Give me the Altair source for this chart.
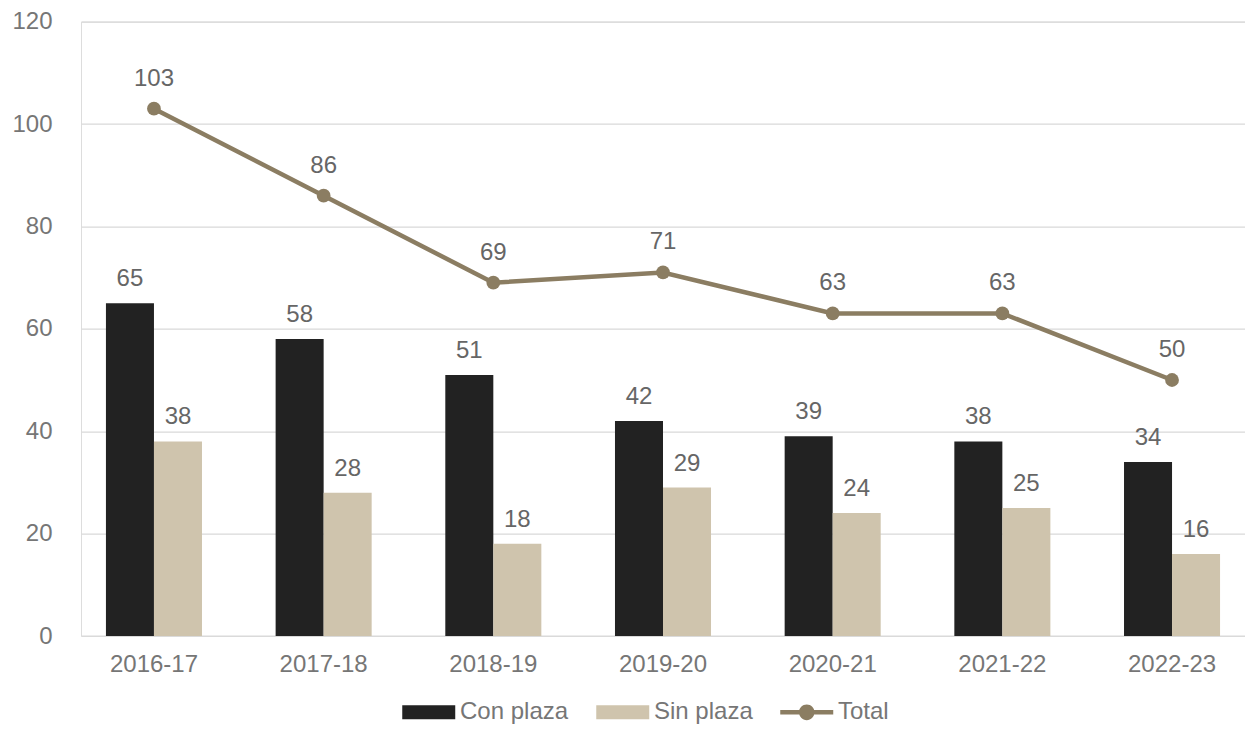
import altair as alt
import pandas as pd

categorias = ["2016-17", "2017-18", "2018-19", "2019-20", "2020-21", "2021-22", "2022-23"]
con_plaza = [65, 58, 51, 42, 39, 38, 34]
sin_plaza = [38, 28, 18, 29, 24, 25, 16]
total = [103, 86, 69, 71, 63, 63, 50]

series = ["Con plaza", "Sin plaza", "Total"]
colores = ["#222222", "#cfc4ad", "#8b7d62"]

bars_df = pd.DataFrame(
    [{"curso": c, "serie": "Con plaza", "valor": v} for c, v in zip(categorias, con_plaza)]
    + [{"curso": c, "serie": "Sin plaza", "valor": v} for c, v in zip(categorias, sin_plaza)]
)
line_df = pd.DataFrame({"curso": categorias, "serie": "Total", "valor": total})
legend_df = pd.DataFrame({"serie": series})

FONT = "Liberation Sans"
FS = 24
AXIS_GREY = "#767676"
LABEL_GREY = "#666666"

x_scale = alt.Scale(domain=categorias, paddingInner=0.434, paddingOuter=0.147)
y_scale = alt.Scale(domain=[0, 120])
color_scale = alt.Scale(domain=series, range=colores)

rect_path = "M-1,-0.53H3V0.53H-1Z"
line_path = "M-1,-0.17H3V0.17H-1Z M0.41,0 A0.59,0.59 0 1,1 1.59,0 A0.59,0.59 0 1,1 0.41,0Z"
shape_scale = alt.Scale(domain=series, range=[rect_path, rect_path, line_path])

legend = alt.Legend(
    title=None,
    orient="none",
    direction="horizontal",
    legendX=321,
    legendY=677,
    symbolSize=702,
    symbolOpacity=1,
    symbolStrokeWidth=0,
    labelOffset=31,
    columnPadding=27,
    labelFont=FONT,
    labelFontSize=FS,
    labelColor=AXIS_GREY,
)

x_enc = alt.X(
    "curso:N",
    scale=x_scale,
    sort=categorias,
    title=None,
    axis=alt.Axis(
        labelAngle=0,
        labelFont=FONT,
        labelFontSize=FS,
        labelColor=AXIS_GREY,
        labelPadding=16,
        ticks=False,
        domain=False,
        grid=False,
    ),
)
y_enc = alt.Y(
    "valor:Q",
    scale=y_scale,
    title=None,
    axis=alt.Axis(
        values=[0, 20, 40, 60, 80, 100, 120],
        labelFont=FONT,
        labelFontSize=FS,
        labelColor=AXIS_GREY,
        labelPadding=29,
        ticks=False,
        domain=False,
        grid=True,
        gridColor="#d9d9d9",
        gridWidth=1.3,
    ),
)

off_scale = alt.Scale(domain=["Con plaza", "Sin plaza"], paddingInner=0, paddingOuter=0)

bars = alt.Chart(bars_df).mark_bar().encode(
    x=x_enc,
    xOffset=alt.XOffset("serie:N", scale=off_scale),
    y=y_enc,
    color=alt.Color("serie:N", scale=color_scale, legend=None),
)

bar_labels = alt.Chart(bars_df).mark_text(
    font=FONT, fontSize=FS, color=LABEL_GREY, baseline="alphabetic", dy=-17
).encode(
    x=alt.X("curso:N", scale=x_scale, sort=categorias),
    xOffset=alt.XOffset("serie:N", scale=off_scale, bandPosition=0.5),
    y=alt.Y("valor:Q", scale=y_scale),
    text=alt.Text("valor:Q"),
)

line = alt.Chart(line_df).mark_line(strokeWidth=4.5).encode(
    x=alt.X("curso:N", scale=x_scale, sort=categorias),
    y=alt.Y("valor:Q", scale=y_scale),
    color=alt.Color("serie:N", scale=color_scale, legend=None),
)

points = alt.Chart(line_df).mark_point(filled=True, size=190, opacity=1).encode(
    x=alt.X("curso:N", scale=x_scale, sort=categorias),
    y=alt.Y("valor:Q", scale=y_scale),
    color=alt.Color("serie:N", scale=color_scale, legend=None),
)

line_labels = alt.Chart(line_df).mark_text(
    font=FONT, fontSize=FS, color=LABEL_GREY, baseline="alphabetic", dy=-23
).encode(
    x=alt.X("curso:N", scale=x_scale, sort=categorias),
    y=alt.Y("valor:Q", scale=y_scale),
    text=alt.Text("valor:Q"),
)

legend_layer = alt.Chart(legend_df).mark_point(filled=True, size=0, opacity=1).encode(
    color=alt.Color("serie:N", scale=color_scale, legend=legend),
    shape=alt.Shape("serie:N", scale=shape_scale, legend=legend),
)

chart = (
    alt.layer(bars, bar_labels, line, points, line_labels, legend_layer)
    .resolve_legend(color="independent", shape="independent")
    .properties(
        width=1164,
        height=614.4,
        autosize=alt.AutoSizeParams(type="none"),
        padding={"left": 73, "top": 13.6, "right": 0, "bottom": 88},
    )
    .configure_view(stroke=None)
    .configure(background="white")
)

chart.save("out.html", embed_options={"renderer": "svg", "actions": False})
